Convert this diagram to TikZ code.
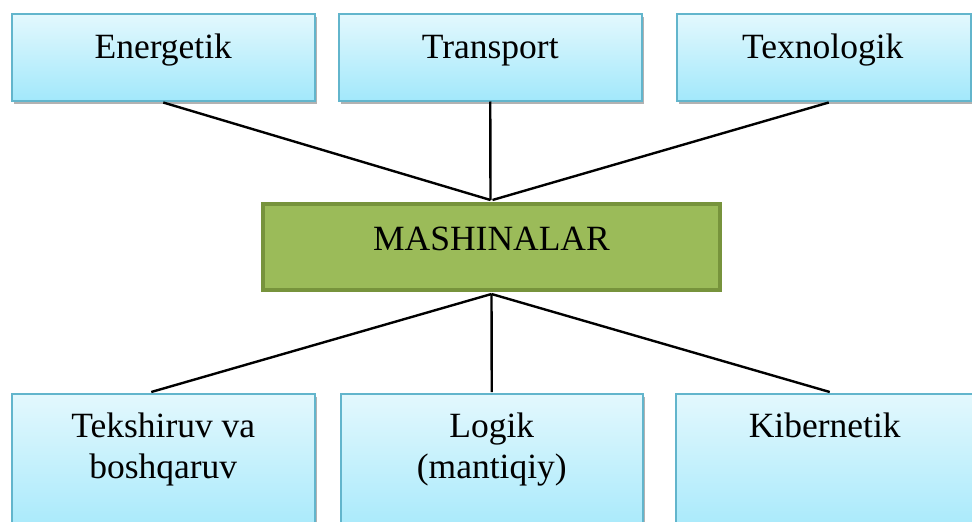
\documentclass[tikz,border=0pt]{standalone}
\usepackage{fontspec}
\setmainfont{Liberation Serif}
\usetikzlibrary{shadows,calc}
\definecolor{boxtop}{HTML}{E3F8FD}
\definecolor{boxbot}{HTML}{A2E8FB}
\definecolor{boxline}{HTML}{62B5CC}
\definecolor{mfill}{HTML}{9BBB59}
\definecolor{mline}{HTML}{77933C}
\tikzset{
  bluebox/.style={draw=boxline, line width=1.5pt, top color=boxtop, bottom color=boxbot,
    anchor=north west, inner sep=0pt,
    drop shadow={shadow xshift=2pt, shadow yshift=-3pt, fill=black!50, opacity=0.6}},
  greenbox/.style={draw=mline, line width=4pt, fill=mfill, anchor=north west, inner sep=0pt,
    minimum width=457pt, minimum height=86pt},
  txt/.style={font=\fontsize{35.5}{41}\selectfont, align=center, anchor=base, inner sep=0pt},
  conn/.style={line width=2.4pt, black}
}
\begin{document}
\begin{tikzpicture}[x=1pt,y=-1pt]
\useasboundingbox (0,0) rectangle (972,522);
\clip (0,0) rectangle (972,522);
\fill[white] (0,0) rectangle (972,522);
% top boxes
\node[bluebox, minimum width=303pt, minimum height=87pt] (en) at (11,13) {};
\node[bluebox, minimum width=303pt, minimum height=87pt] (tr) at (338,13) {};
\node[bluebox, minimum width=294pt, minimum height=87pt] (tx) at (676,13) {};
% bottom boxes
\node[bluebox, minimum width=303pt, minimum height=150pt] (tk) at (11,393) {};
\node[bluebox, minimum width=302pt, minimum height=150pt] (lg) at (340,393) {};
\node[bluebox, minimum width=300pt, minimum height=150pt] (kb) at (675,393) {};
% center
\node[greenbox] (ma) at (261,202) {};
% texts
\node[txt] (enT) at ($(en.north)+(0,45)$) {Energetik};
\node[txt] (trT) at ($(tr.north)+(0,45)$) {Transport};
\node[txt] (txT) at ($(tx.north)+(-1,45)$) {Texnologik};
\node[txt] (maT) at ($(ma.north)+(0,48)$) {MASHINALAR};
\node[txt] (tkT) at ($(tk.north)+(0,85)$) {Tekshiruv va\\boshqaruv};
\node[txt] (lgT) at ($(lg.north)+(0,85)$) {Logik\\(mantiqiy)};
\node[txt] (kbT) at ($(kb.north)+(-1,44)$) {Kibernetik};
% connectors
\coordinate (enP) at ($(en.south)+(0,1)$);
\coordinate (txP) at ($(tx.south)+(5,1)$);
\coordinate (tkP) at ($(tk.north)+(-12,-1)$);
\coordinate (kbP) at ($(kb.north)+(4,-1)$);
\draw[conn] (enP) -- ($(ma.north)+(-1,-2)$);
\draw[conn] (tr.south) -- ($(ma.north)+(-1,-2)$);
\draw[conn] (txP) -- ($(ma.north)+(1,-2)$);
\draw[conn] ($(ma.south)+(0,2)$) -- (tkP);
\draw[conn] ($(ma.south)+(0,2)$) -- ($(lg.north)+(0,-1)$);
\draw[conn] ($(ma.south)+(0,2)$) -- (kbP);
\end{tikzpicture}
\end{document}
